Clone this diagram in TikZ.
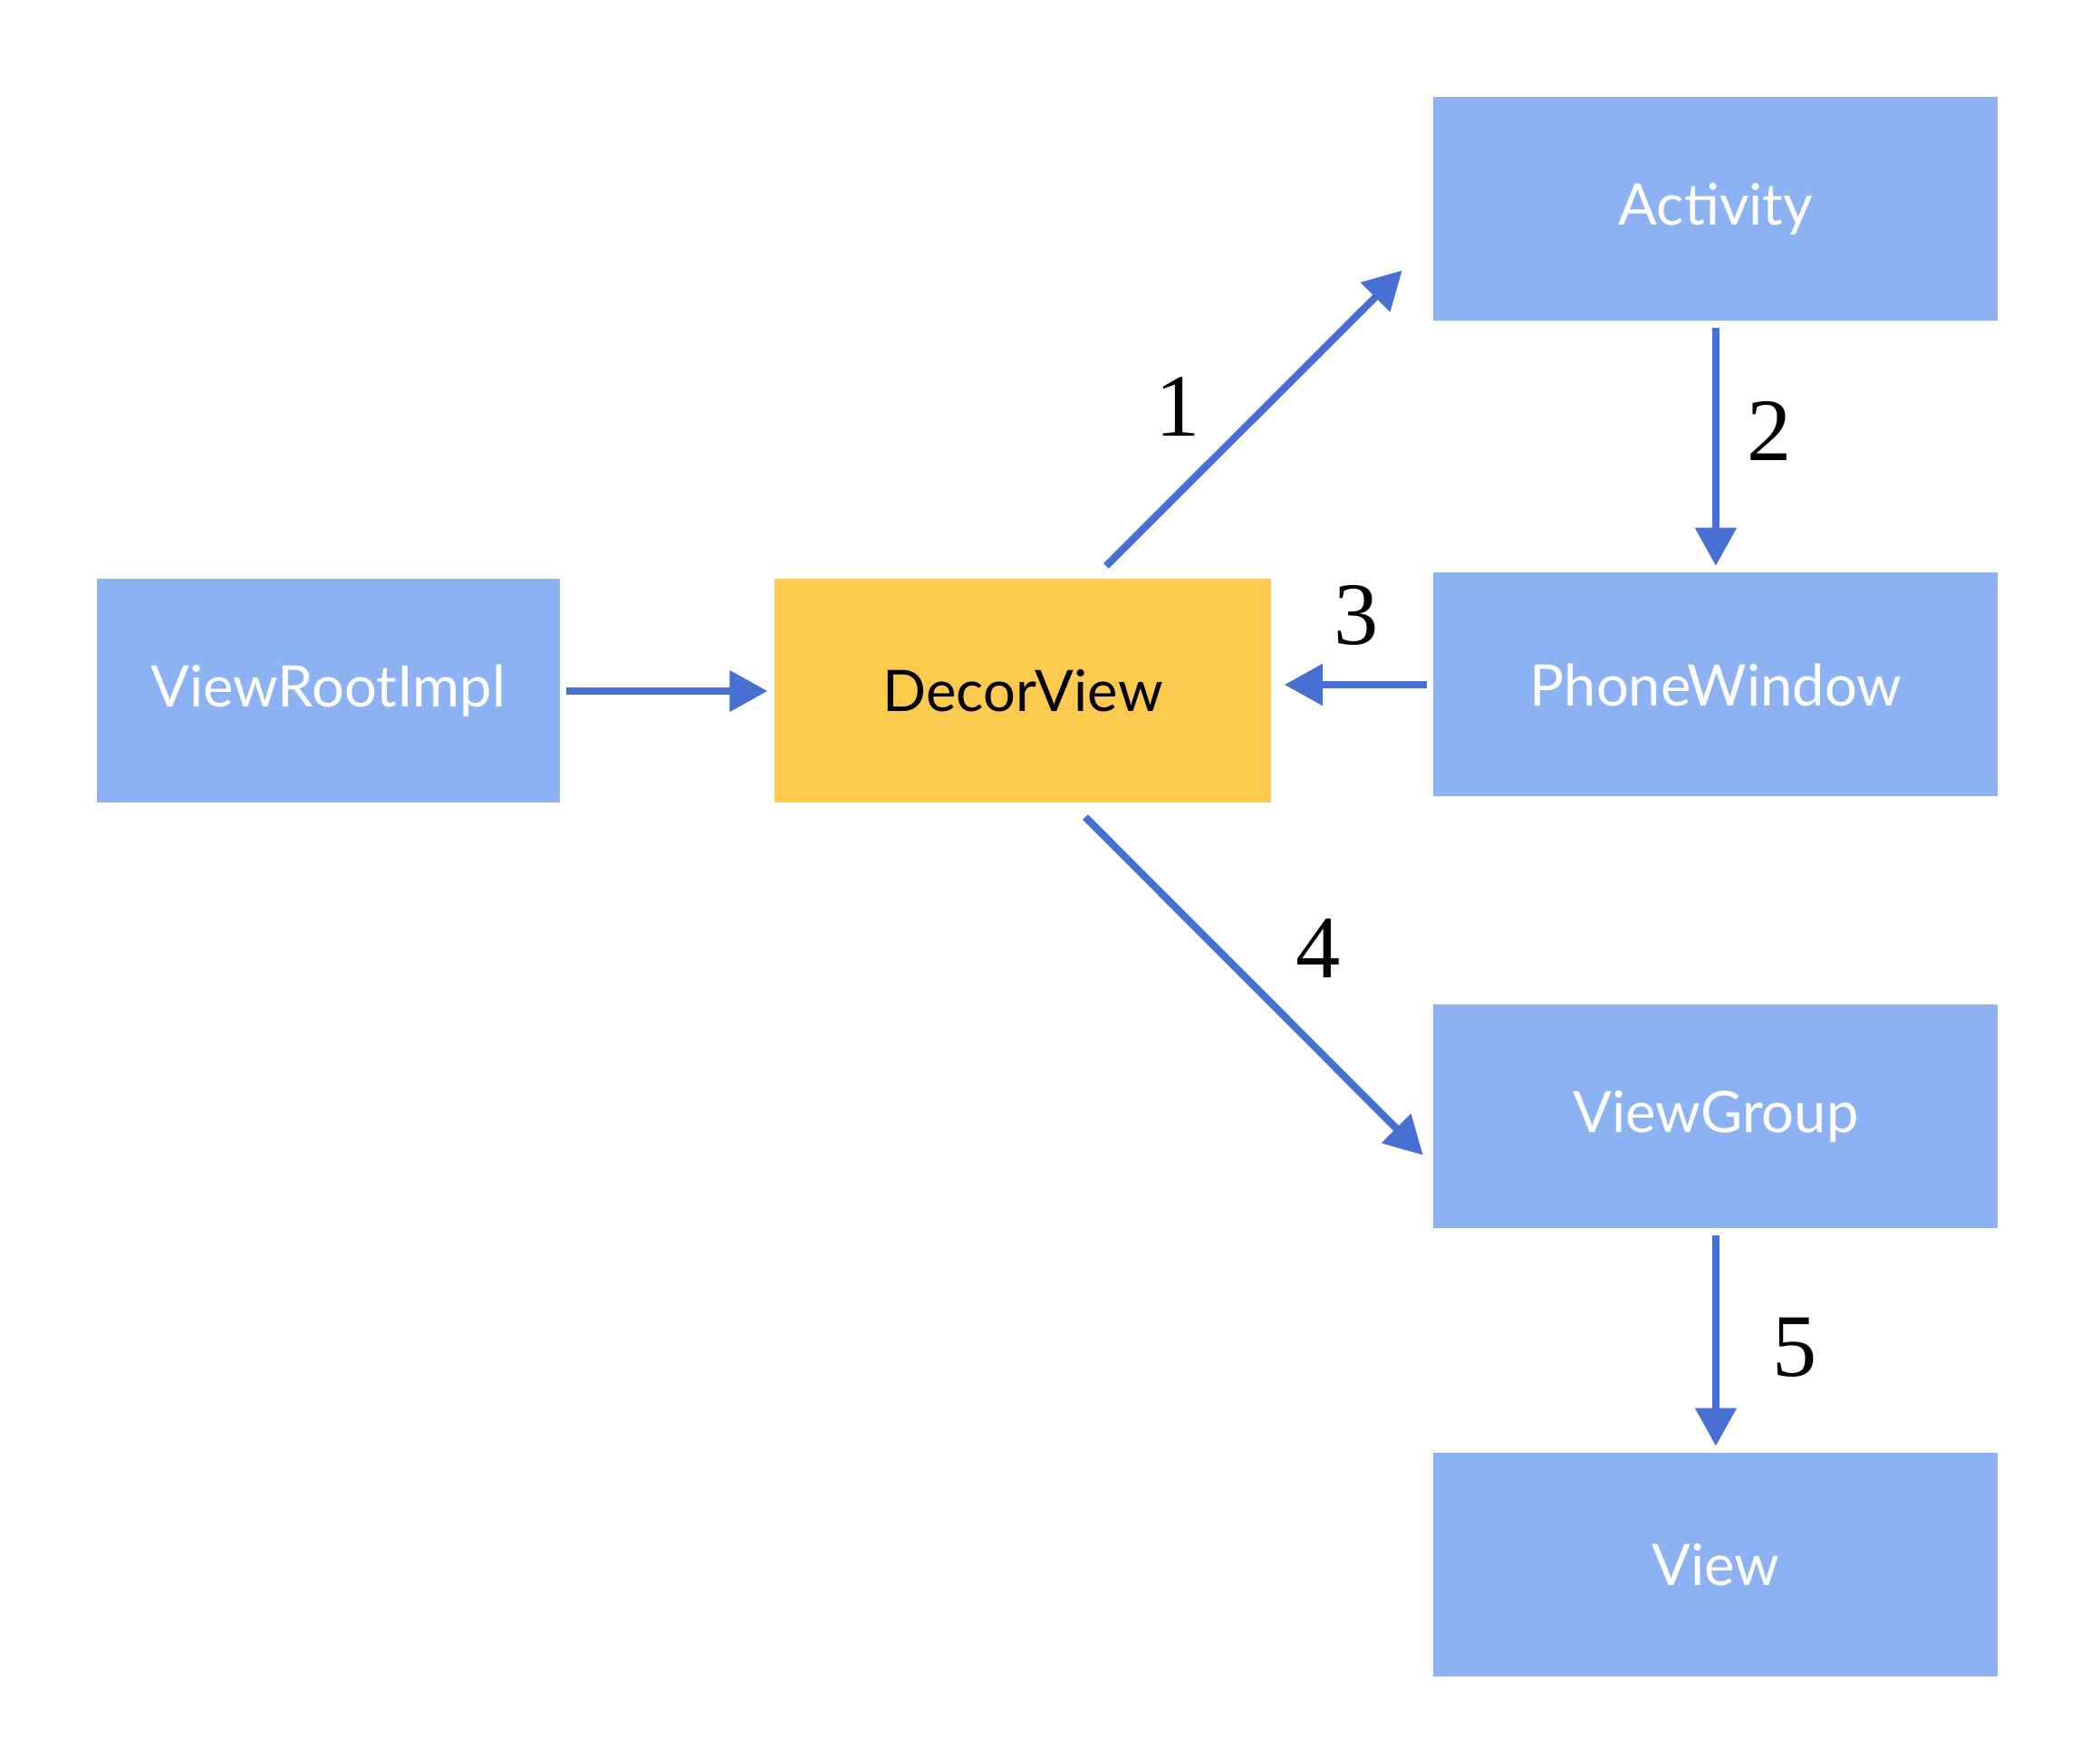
\documentclass[tikz,border=0pt]{standalone}
\usepackage{fontspec}
\setmainfont{Liberation Serif}
\newfontfamily\boxfont{Lato}
\usepackage{tikz}
\usetikzlibrary{arrows.meta,positioning}
\definecolor{boxblue}{RGB}{141,178,243}
\definecolor{boxyellow}{RGB}{253,202,80}
\definecolor{arrowblue}{RGB}{72,112,212}
\tikzset{
    %Define standard arrow tip
    >={Triangle[length=0.42cm,width=0.44cm]},
    %Define style for boxes
    kasse/.style={
           rectangle,
           fill=boxblue,
           text=white,
           inner sep=0pt,
           minimum width=6.23cm,
           minimum height=2.47cm,
           font=\boxfont\fontsize{18}{22}\selectfont,
           text centered},
    % Define arrow style
    pil/.style={
           ->,
           draw=arrowblue,
           fill=arrowblue,
           line width=2.3pt,
           shorten <=2pt,
           shorten >=2pt,}
}
\begin{document}
\begin{tikzpicture}[
tal/.style={font=\fontsize{28}{32}\selectfont, text=black},
gul/.style={kasse, fill=boxyellow, text=black, minimum width=5.48cm}
]
\useasboundingbox (0,0) rectangle (23.18,19.20);
%Nodes
\node[gul] (decor) at (11.29,11.57) {DecorView};
\node[kasse, minimum width=5.11cm] (viewroot) [left=2.36cm of decor] {ViewRootImpl};
\node[kasse] (phone) [right=1.78cm of decor, yshift=0.07cm] {PhoneWindow};
\node[kasse] (activity) [above=2.77cm of phone] {Activity};
\node[kasse] (viewgroup) [below=2.28cm of phone] {ViewGroup};
\node[kasse] (view) [below=2.47cm of viewgroup] {View};
%Arrows
\draw[pil] (viewroot.east) -- (decor.west);
\draw[pil] ([xshift=0.87cm,yshift=0.09cm]decor.north) -- ([xshift=-0.29cm,yshift=-0.63cm]activity.west);
\draw[pil] (activity.south) -- (phone.north);
\draw[pil] (phone.west) -- ([xshift=0.07cm]decor.east |- phone.west);
\draw[pil] ([xshift=0.64cm,yshift=-0.1cm]decor.south) -- ([xshift=-0.06cm,yshift=-0.48cm]viewgroup.west);
\draw[pil] (viewgroup.south) -- (view.north);
%Labels
\node[tal] (lbl1) at (13.00,14.71) {1};
\node[tal] (lbl2) at (19.53,14.44) {2};
\node[tal] (lbl3) at (14.97,12.41) {3};
\node[tal] (lbl4) at (14.55,8.73) {4};
\node[tal] (lbl5) at (19.81,4.32) {5};
\end{tikzpicture}
\end{document}
